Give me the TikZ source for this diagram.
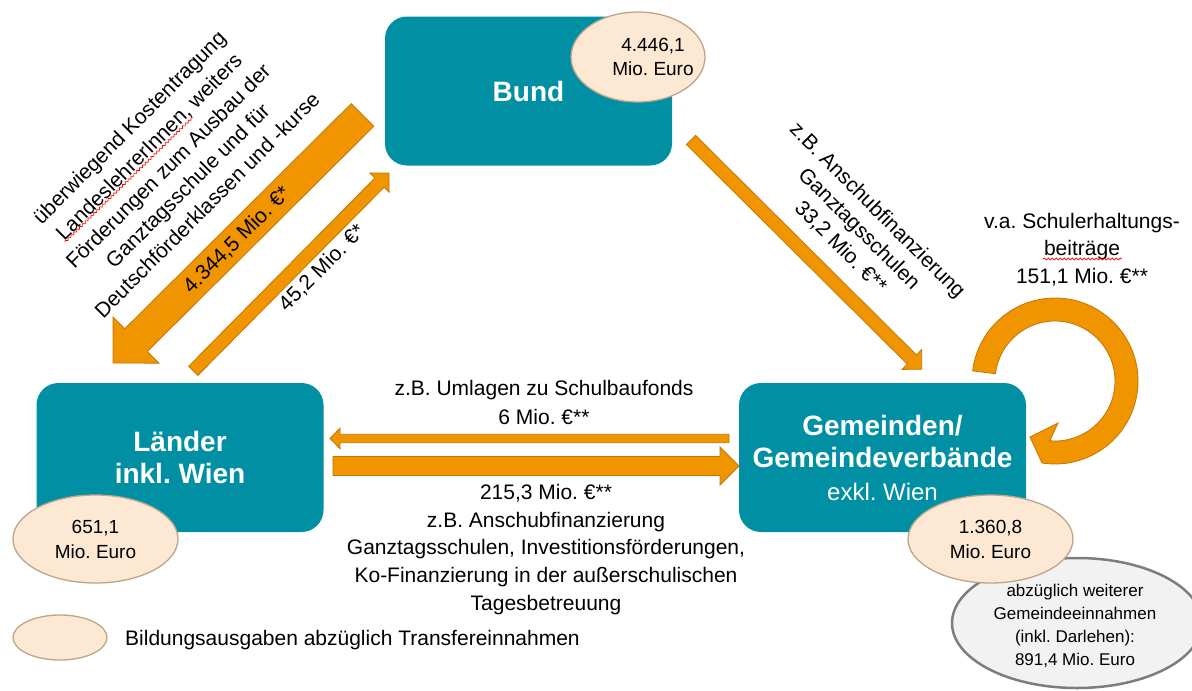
\documentclass[tikz,border=0pt]{standalone}
\usepackage{fontspec}
\setmainfont{Liberation Sans}
\usetikzlibrary{calc,shapes.geometric,decorations.pathmorphing}

\definecolor{boxteal}{RGB}{0,143,163}
\definecolor{flow}{RGB}{240,148,0}
\definecolor{flowedge}{RGB}{196,118,0}
\definecolor{peach}{RGB}{252,232,211}
\definecolor{peachedge}{RGB}{190,165,138}
\definecolor{greyfill}{RGB}{242,242,242}
\definecolor{greyedge}{RGB}{125,125,125}

\newcommand{\fs}[2]{\fontsize{#1}{#2}\selectfont}

% straight block arrow: tail, tip, half shaft width, half head width, head length
\newcommand{\blockarrow}[5]{%
  \path[flowarrow] let \p1=($(#2)-(#1)$), \n1={atan2(\y1,\x1)} in
    ($(#1)+(\n1+90:#3)$)
    -- ($(#2)+(\n1+180:#5)+(\n1+90:#3)$)
    -- ($(#2)+(\n1+180:#5)+(\n1+90:#4)$)
    -- (#2)
    -- ($(#2)+(\n1+180:#5)+(\n1-90:#4)$)
    -- ($(#2)+(\n1+180:#5)+(\n1-90:#3)$)
    -- ($(#1)+(\n1-90:#3)$) -- cycle;}

\tikzset{
  box/.style={rounded corners=22pt, fill=boxteal, text=white, align=center,
    inner sep=0pt, minimum width=287pt, minimum height=149pt},
  amount/.style={ellipse, fill=peach, draw=peachedge, line width=1.3pt,
    inner sep=0pt, minimum width=165pt, minimum height=88pt, align=center,
    font=\fs{19}{25}},
  lbl/.style={align=center, inner sep=0pt, font=\fs{21}{27.7}},
  flowarrow/.style={fill=flow, draw=flowedge, line width=0.8pt, line join=miter},
  spellmark/.style={red, line width=0.7pt, decorate,
    decoration={snake, amplitude=1pt, segment length=4pt}},
}

\begin{document}
\frenchspacing
\begin{tikzpicture}[x=1pt,y=1pt]
\useasboundingbox (0,0) rectangle (1192,-691);
\clip (0,0) rectangle (1192,-691);

% the three levels of government
\node[box, font=\fs{28}{33}\bfseries] (bund) at (528.5,-91) {Bund};
\node[box, font=\fs{28}{32}\bfseries] (laender) at (180,-457.5) {Länder\\inkl. Wien};
\node[box, font=\fs{28}{32.5}\bfseries] (gemeinden) at (882.5,-457.5)
  {Gemeinden/\\Gemeindeverbände\\{\fs{24}{31}\mdseries exkl. Wien}};

% net education spending per level
\node[amount, minimum width=134pt, minimum height=90pt] (bundsum) at (638,-57) {};
\node[align=center, inner sep=0pt, font=\fs{19}{23.5}] (bundsumtxt) at (653,-57) {4.446,1\\Mio. Euro};
\node[amount] (laendersum) at (95.5,-539) {651,1\\Mio. Euro};
\node[ellipse, fill=greyfill, draw=greyedge, line width=2.5pt, inner sep=0pt,
  minimum width=250pt, minimum height=130pt] (gemextra) at (1077,-623) {};
\node[align=center, inner sep=0pt, font=\fs{17}{23}] (gemextratxt) at (1075,-625.5)
  {abzüglich weiterer\\Gemeindeeinnahmen\\(inkl. Darlehen):\\891,4 Mio. Euro};
\node[amount] (gemsum) at (990.5,-539) {1.360,8\\Mio. Euro};

% legend
\node[amount, minimum width=94pt, minimum height=45pt] (legend) at (60,-637.5) {};
\node[anchor=west, inner sep=0pt, font=\fs{21}{25}] (legendtxt) at (125,-640)
  {Bildungsausgaben abzüglich Transfereinnahmen};

% end points of the transfer flows
\coordinate (bl-tail) at (362.5,-115);
\coordinate (bl-tip) at (113,-363);
\coordinate (lb-tail) at (193.3,-370.8);
\coordinate (lb-tip) at (389,-173);
\coordinate (bg-tail) at (691,-140);
\coordinate (bg-tip) at (921.7,-369.3);
\coordinate (gl-tail) at (729,-438.5);
\coordinate (gl-tip) at (330,-438.5);
\coordinate (lg-tail) at (333,-466);
\coordinate (lg-tip) at (739,-466);
\coordinate (loopc) at (1055,-381);

\blockarrow{bl-tail}{bl-tip}{16}{32.5}{32.5}
\blockarrow{lb-tail}{lb-tip}{6.5}{13.5}{13.5}
\blockarrow{bg-tail}{bg-tip}{6.5}{13.9}{13.9}
\blockarrow{gl-tail}{gl-tip}{4.2}{10.3}{10}
\blockarrow{lg-tail}{lg-tip}{9.5}{19}{19}

% transfers within the municipal level
\path[flowarrow] ($(loopc)+(173:83)$) arc[start angle=173, end angle=-97, radius=83]
  -- (1042,-463) -- (1030,-437) -- (1058,-423)
  -- ($(loopc)+(-95:60)$) arc[start angle=-95, end angle=173, radius=60] -- cycle;

% flow labels
\node[lbl, rotate=45, font=\fs{21}{27.5}] (kosten) at (168,-166)
  {überwiegend Kostentragung\\LandeslehrerInnen, weiters\\Förderungen zum Ausbau der\\Ganztagsschule und für\\Deutschförderklassen und -kurse};
\node[lbl, rotate=45] (bl-amount) at (237,-240) {4.344,5 Mio. €*};
\node[lbl, rotate=45] (lb-amount) at (322,-268) {45,2 Mio. €*};
\node[lbl, rotate=-45, font=\fs{21}{26}] (bg-text) at (859,-229)
  {z.B. Anschubfinanzierung\\Ganztagsschulen\\33,2 Mio. €**};
\node[lbl, font=\fs{21}{29}] (gl-text) at (544,-402.5)
  {z.B. Umlagen zu Schulbaufonds\\6 Mio. €**};
\node[lbl, font=\fs{21}{27.75}] (lg-text) at (546,-549.5)
  {215,3 Mio. €**\\z.B. Anschubfinanzierung\\Ganztagsschulen, Investitionsförderungen,\\Ko-Finanzierung in der außerschulischen\\Tagesbetreuung};
\node[lbl, font=\fs{21}{27.5}] (loop-text) at (1082,-249.5)
  {v.a. Schulerhaltungs-\\beiträge\\151,1 Mio. €**};

% spell-check marks under two words
\draw[spellmark] (65,-242) -- (193,-117);
\draw[spellmark] (1043,-259) -- (1122,-259);
\end{tikzpicture}
\end{document}
